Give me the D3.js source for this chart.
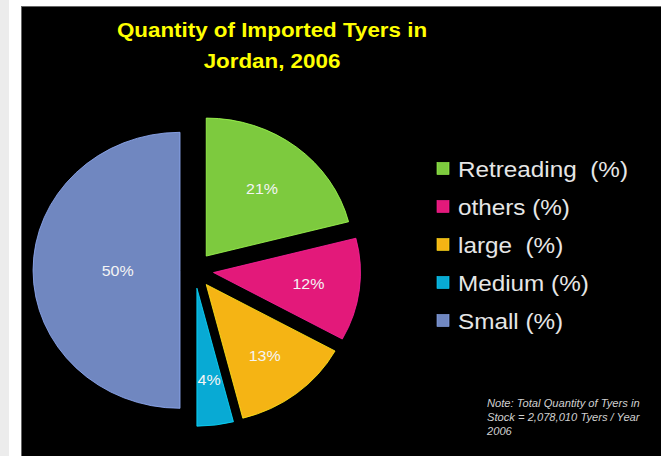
<!DOCTYPE html>
<html>
<head>
<meta charset="utf-8">
<script src="https://cdn.jsdelivr.net/npm/d3@7"></script>
<style>
  body { margin: 0; background: #fff; }
  svg { display: block; font-family: "Liberation Sans", Arial, sans-serif; }
  text { white-space: pre; }
</style>
</head>
<body>
<script>
// data
var categories = ['Retreading', 'others', 'large', 'Medium', 'Small'];
var legendLabels = ['Retreading  (%)', 'others (%)', 'large  (%)', 'Medium (%)', 'Small (%)'];
var shares = [21, 12, 13, 4, 50];
var palette = ['#7dca3e', '#e3197a', '#f5b414', '#08aad4', '#7087c0'];
var titleLines = ['Quantity of Imported Tyers in', 'Jordan, 2006'];
var noteLines = ['Note: Total Quantity of Tyers in', 'Stock = 2,078,010 Tyers / Year', '2006'];

var W = 661, H = 456;
var sx = 1.065; // the source picture is a bit wider than tall
var R = 138;

var svg = d3.select('body').append('svg')
  .attr('width', W)
  .attr('height', H);

// page margin and slide frame
svg.append('rect').attr('x', 0).attr('y', 0).attr('width', 9).attr('height', H).attr('fill', '#ececec');
svg.append('rect')
  .attr('x', 21.5).attr('y', 6.5)
  .attr('width', W).attr('height', H)
  .attr('fill', '#000')
  .attr('stroke', '#666');

var root = svg.append('g').attr('transform', 'scale(' + sx + ',1)');

// title
root.append('text')
  .attr('x', 272 / sx)
  .attr('text-anchor', 'middle')
  .attr('font-size', 21)
  .attr('font-weight', 'bold')
  .attr('fill', '#ffff00')
  .selectAll('tspan')
  .data(titleLines)
  .enter().append('tspan')
  .attr('x', 272 / sx)
  .attr('y', function (d, i) { return 37.5 + i * 31; })
  .text(function (d) { return d; });

var color = d3.scaleOrdinal().domain(categories).range(palette);

var table = categories.map(function (c, i) { return { cat: c, value: shares[i] }; });

var pie = d3.pie().sort(null).value(function (d) { return d.value; });
var arc = d3.arc().innerRadius(0).outerRadius(R);
var arcs = pie(table);

var pieG = root.append('g')
  .attr('transform', 'translate(' + (194.5 / sx) + ',270.3)');

function explode(d) { return d.data.cat === 'Small' ? 13.6 : 18; }
function mid(d) { return (d.startAngle + d.endAngle) / 2; }

var slices = pieG.selectAll('g.slice')
  .data(arcs)
  .enter().append('g')
  .attr('class', 'slice')
  .attr('transform', function (d) {
    var a = mid(d), e = explode(d);
    return 'translate(' + (Math.sin(a) * e) + ',' + (-Math.cos(a) * e) + ')';
  });

slices.append('path')
  .attr('d', arc)
  .attr('fill', function (d) { return color(d.data.cat); })
  .attr('stroke', function (d) { return d3.color(color(d.data.cat)).brighter(0.7); })
  .attr('stroke-width', 0.8);

// labels at the sector's area centroid
slices.append('text')
  .attr('transform', function (d) {
    var t = d.endAngle - d.startAngle, a = mid(d);
    var r = 4 * R * Math.sin(t / 2) / (3 * t);
    return 'translate(' + (Math.sin(a) * r) + ',' + (-Math.cos(a) * r) + ')';
  })
  .attr('text-anchor', 'middle')
  .attr('dy', '0.36em')
  .attr('font-size', 15)
  .attr('fill', '#f4f4f4')
  .text(function (d) { return d.data.value + '%'; });

// legend
var legend = root.append('g')
  .attr('transform', 'translate(' + (437 / sx) + ',168.5)');

var items = legend.selectAll('g')
  .data(categories)
  .enter().append('g')
  .attr('transform', function (d, i) { return 'translate(0,' + (i * 38) + ')'; });

items.append('rect')
  .attr('x', 0).attr('y', -6)
  .attr('width', 12 / sx).attr('height', 12)
  .attr('fill', function (d) { return color(d); })
  .attr('stroke', function (d) { return d3.color(color(d)).brighter(0.6); })
  .attr('stroke-width', 0.6);

items.append('text')
  .attr('x', 21 / sx)
  .attr('dy', '0.36em')
  .attr('font-size', 22.8)
  .attr('fill', '#e6e6e6')
  .text(function (d, i) { return legendLabels[i]; });

// note
root.append('text')
  .attr('font-size', 10.5)
  .attr('font-style', 'italic')
  .attr('fill', '#d0d0d0')
  .selectAll('tspan')
  .data(noteLines)
  .enter().append('tspan')
  .attr('x', 487 / sx)
  .attr('y', function (d, i) { return 407.5 + i * 14; })
  .text(function (d) { return d; });
</script>
</body>
</html>
